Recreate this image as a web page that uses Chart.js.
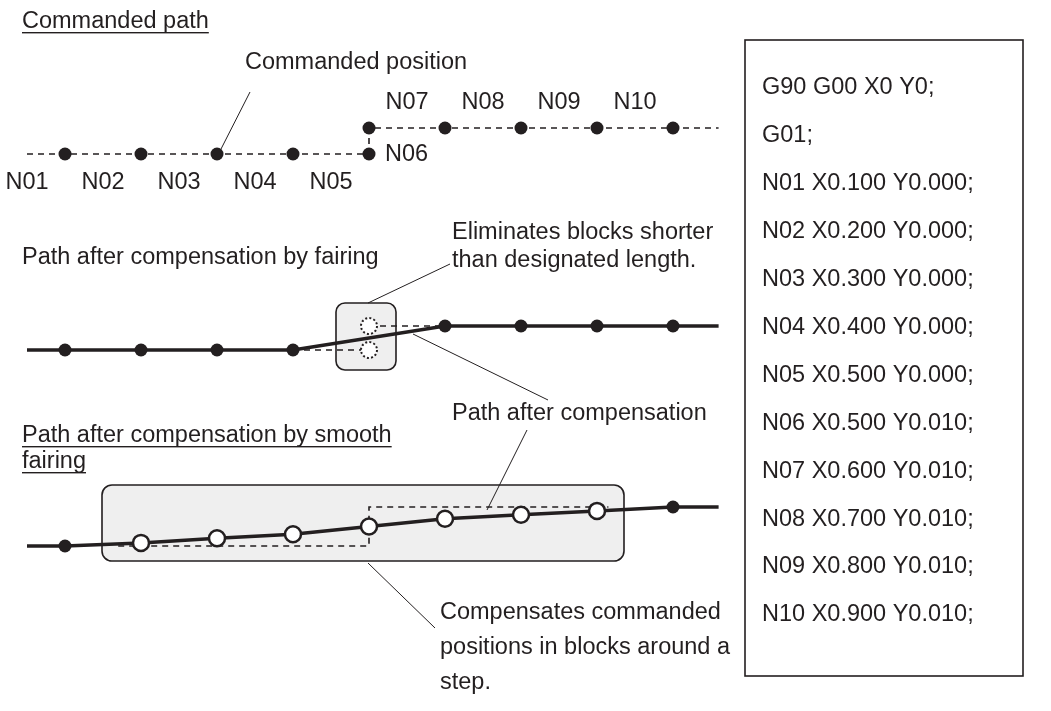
<!DOCTYPE html>
<html>
<head>
<meta charset="utf-8">
<script src="https://cdn.jsdelivr.net/npm/chart.js@4.4.1/dist/chart.umd.min.js"></script>
<style>
  html, body { margin: 0; padding: 0; background: #fff; }
</style>
</head>
<body>
<canvas id="diagram" width="1051" height="711"></canvas>
<script>
// commanded blocks (same values as the NC program in the box)
const blockNames = ["N01", "N02", "N03", "N04", "N05", "N06", "N07", "N08", "N09", "N10"];
const cmdX = [0.1, 0.2, 0.3, 0.4, 0.5, 0.5, 0.6, 0.7, 0.8, 0.9];
const cmdY = [0, 0, 0, 0, 0, 0.01, 0.01, 0.01, 0.01, 0.01];
const startX = 0, startY = 0;

// path is drawn a little before N01 and after N10
const leadInX = 0.05, leadOutX = 0.96;

// fairing: N05 / N06 are dropped
const fairX = [0.1, 0.2, 0.3, 0.4, 0.6, 0.7, 0.8, 0.9];
const fairY = [0, 0, 0, 0, 0.01, 0.01, 0.01, 0.01];
const droppedX = [0.5, 0.5];
const droppedY = [0, 0.01];

// smooth fairing: positions around the step are moved
const smoothX = [0.1, 0.2, 0.3, 0.4, 0.5, 0.6, 0.7, 0.8, 0.9];
const smoothY = [0, 0.0008, 0.002, 0.003, 0.005, 0.007, 0.008, 0.009, 0.01];
const smoothDashX = [0.17, 0.5, 0.5, 0.815];
const smoothDashY = [0, 0, 0.01, 0.01];

const programHead = ["G90 G00 X0 Y0;", "G01;"];

const INK = "#231f20";
const FONT = '23.5px "Liberation Sans", Arial, sans-serif';
const W = 1051, H = 711;

// layout: pixel of X=0 and px per unit, one y axis per row
const X_ZERO = -11, X_PX = 760;
const rowAxes = {
    y1: { base: 154, px: 2600 },
    y2: { base: 350, px: 2400 },
    y3: { base: 546, px: 3900 }
};

function pts(xs, ys) {
    return xs.map((x, i) => ({ x: x, y: ys[i] }));
}

function dottedRing(r) {
    const c = document.createElement("canvas");
    const s = Math.ceil(2 * r + 4);
    c.width = c.height = s;
    const g = c.getContext("2d");
    g.beginPath();
    g.arc(s / 2, s / 2, r, 0, Math.PI * 2);
    g.fillStyle = "#fff";
    g.fill();
    g.setLineDash([2, 2.2]);
    g.lineWidth = 2;
    g.strokeStyle = INK;
    g.stroke();
    return c;
}

const cmdPts = pts(cmdX, cmdY);
const row1 = [{ x: leadInX, y: 0 }].concat(cmdPts, [{ x: leadOutX, y: 0.01 }]);
const row2 = [{ x: leadInX, y: 0 }].concat(pts(fairX, fairY), [{ x: leadOutX, y: 0.01 }]);
const row3 = [{ x: leadInX, y: 0 }].concat(pts(smoothX, smoothY), [{ x: leadOutX, y: 0.01 }]);

function radii(arr, r) {
    return arr.map((p, i) => (i === 0 || i === arr.length - 1) ? 0 : r);
}

const row3Fill = row3.map((p, i) => (i === 1 || i === row3.length - 2) ? INK : "#fff");
const row3Rad = row3.map((p, i) => (i === 0 || i === row3.length - 1) ? 0 : (i === 1 || i === row3.length - 2) ? 6.5 : 8);
const row3Border = row3.map((p, i) => (i === 1 || i === row3.length - 2) ? 0 : 2.5);

const datasets = [
    {
        data: row1, yAxisID: "y1", showLine: true,
        borderColor: INK, borderWidth: 1.6, borderDash: [6, 5],
        pointRadius: radii(row1, 6.5), pointBackgroundColor: INK, pointBorderWidth: 0, order: 1
    },
    {
        data: row2, yAxisID: "y2", showLine: true,
        borderColor: INK, borderWidth: 3.5,
        pointRadius: radii(row2, 6.5), pointBackgroundColor: INK, pointBorderWidth: 0, order: 1
    },
    {
        data: [cmdPts[3], cmdPts[4]], yAxisID: "y2", showLine: true,
        borderColor: INK, borderWidth: 1.6, borderDash: [6, 5], pointRadius: 0, order: 3
    },
    {
        data: [cmdPts[5], cmdPts[6]], yAxisID: "y2", showLine: true,
        borderColor: INK, borderWidth: 1.6, borderDash: [6, 5], pointRadius: 0, order: 3
    },
    {
        data: pts(droppedX, droppedY), yAxisID: "y2", showLine: false,
        pointStyle: dottedRing(8), pointRadius: 8, order: 2
    },
    {
        data: row3, yAxisID: "y3", showLine: true,
        borderColor: INK, borderWidth: 3.5,
        pointRadius: row3Rad, pointBackgroundColor: row3Fill,
        pointBorderColor: INK, pointBorderWidth: row3Border, order: 1
    },
    {
        data: pts(smoothDashX, smoothDashY), yAxisID: "y3", showLine: true,
        borderColor: INK, borderWidth: 1.6, borderDash: [6, 5], pointRadius: 0, order: 3
    }
];

// texts and leader lines (pixel layout)
const notes = [
    { text: "Commanded path", x: 22, y: 22, underline: true },
    { text: "Commanded position", x: 245, y: 63 },
    { text: "Path after compensation by fairing", x: 22, y: 258 },
    { text: "Eliminates blocks shorter", x: 452, y: 233 },
    { text: "than designated length.", x: 452, y: 261 },
    { text: "Path after compensation", x: 452, y: 414 },
    { text: "Path after compensation by smooth", x: 22, y: 436, underline: true },
    { text: "fairing", x: 22, y: 462, underline: true },
    { text: "Compensates commanded", x: 440, y: 613 },
    { text: "positions in blocks around a", x: 440, y: 648 },
    { text: "step.", x: 440, y: 683 }
];
const leaders = [
    [220, 151, 250, 92],
    [368, 303, 450, 264],
    [413, 334, 548, 400],
    [527, 430, 487, 510],
    [368, 563, 435, 628]
];
const grayBoxes = [
    { x: 336, y: 303, w: 60, h: 67, r: 9 },
    { x: 102, y: 485, w: 522, h: 76, r: 10 }
];
const codeBox = { x: 745, y: 40, w: 278, h: 636 };

const diagramPlugin = {
    id: "diagram",
    beforeDatasetsDraw(chart) {
        const ctx = chart.ctx;
        ctx.save();
        grayBoxes.forEach(b => {
            ctx.beginPath();
            ctx.roundRect(b.x, b.y, b.w, b.h, b.r);
            ctx.fillStyle = "#efefef";
            ctx.fill();
            ctx.lineWidth = 1.6;
            ctx.strokeStyle = INK;
            ctx.stroke();
        });
        ctx.restore();
    },
    afterDatasetsDraw(chart) {
        const ctx = chart.ctx;
        const xs = chart.scales.x, ys = chart.scales.y1;
        ctx.save();
        ctx.font = FONT;
        ctx.fillStyle = INK;
        ctx.strokeStyle = INK;
        ctx.textBaseline = "middle";

        // block labels, centred on each block of the commanded path
        let px = startX, py = startY;
        blockNames.forEach((name, i) => {
            const x0 = xs.getPixelForValue(px), x1 = xs.getPixelForValue(cmdX[i]);
            const y0 = ys.getPixelForValue(py), y1 = ys.getPixelForValue(cmdY[i]);
            if (x0 === x1) {
                ctx.textAlign = "left";
                ctx.fillText(name, x0 + 16, y0 + 1);
            } else {
                ctx.textAlign = "center";
                const below = cmdY[i] === 0;
                ctx.fillText(name, (x0 + x1) / 2, below ? y1 + 29 : y1 - 25);
            }
            px = cmdX[i];
            py = cmdY[i];
        });

        ctx.textAlign = "left";
        notes.forEach(n => {
            ctx.fillText(n.text, n.x, n.y);
            if (n.underline) {
                const w = ctx.measureText(n.text).width;
                ctx.fillRect(n.x, n.y + 10, w, 1.4);
            }
        });

        ctx.lineWidth = 1;
        leaders.forEach(l => {
            ctx.beginPath();
            ctx.moveTo(l[0], l[1]);
            ctx.lineTo(l[2], l[3]);
            ctx.stroke();
        });

        // NC program box
        ctx.lineWidth = 1.6;
        ctx.strokeRect(codeBox.x, codeBox.y, codeBox.w, codeBox.h);
        const lines = programHead.concat(blockNames.map((n, i) =>
            n + " X" + cmdX[i].toFixed(3) + " Y" + cmdY[i].toFixed(3) + ";"));
        lines.forEach((t, i) => ctx.fillText(t, 762, 88 + i * 47.9));
        ctx.restore();
    }
};

const scales = {
    x: { type: "linear", display: false, min: -X_ZERO / X_PX, max: (W - X_ZERO) / X_PX }
};
Object.keys(rowAxes).forEach(k => {
    const r = rowAxes[k];
    scales[k] = { type: "linear", display: false, min: -(H - r.base) / r.px, max: r.base / r.px };
});

new Chart(document.getElementById("diagram"), {
    type: "scatter",
    data: { datasets: datasets },
    options: {
        responsive: false,
        animation: false,
        layout: { padding: 0, autoPadding: false },
        plugins: { legend: { display: false }, tooltip: { enabled: false } },
        elements: { line: { tension: 0 } },
        scales: scales
    },
    plugins: [diagramPlugin]
});
</script>
</body>
</html>
